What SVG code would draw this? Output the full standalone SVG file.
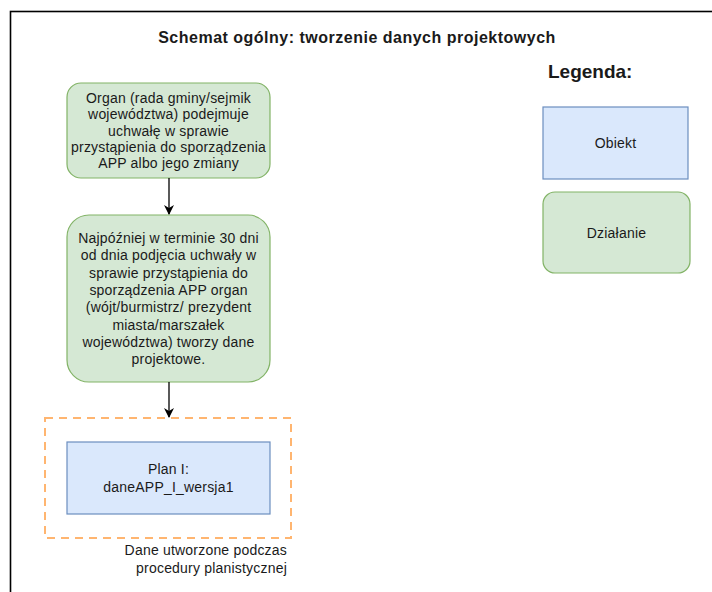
<svg xmlns="http://www.w3.org/2000/svg" width="712" height="592" viewBox="0 0 712 592">
<style>
text{font-family:"Liberation Sans",Arial,sans-serif;fill:#1a1a1a}
.t{font-size:14px;text-anchor:middle;letter-spacing:0.2px}
.act{fill:#d5e8d4;stroke:#82b366;stroke-width:1.2}
.obj{fill:#dae8fc;stroke:#6c8ebf;stroke-width:1.2}
.edge{stroke:#000;stroke-width:1.3;fill:none}
</style>
<defs>
<marker id="arr" markerWidth="10" markerHeight="10" refX="9" refY="5" orient="auto" markerUnits="userSpaceOnUse">
<path d="M0,0 L10,5 L0,10 L3,5 Z" fill="#000"/>
</marker>
</defs>
<rect x="10.5" y="11.5" width="720" height="600" fill="#fff" stroke="#000" stroke-width="1.6"/>
<text x="357" y="43" style="font-size:16px;font-weight:bold;text-anchor:middle;letter-spacing:0.5px" fill="#000">Schemat ogólny: tworzenie danych projektowych</text>

<g id="legend">
<text x="548" y="78" style="font-size:19px;font-weight:bold">Legenda:</text>
<g id="legend-obiekt">
<rect class="obj" x="543" y="107" width="145" height="72"/>
<text class="t" x="615.5" y="148">Obiekt</text>
</g>
<g id="legend-dzialanie">
<rect class="act" x="543" y="192" width="147" height="81" rx="12"/>
<text class="t" x="616.5" y="237.5">Działanie</text>
</g>
</g>

<g id="node1">
<rect class="act" x="67" y="83" width="203" height="95" rx="14"/>
<text class="t" x="168.5" y="103">Organ (rada gminy/sejmik</text>
<text class="t" x="168.5" y="119.3">województwa) podejmuje</text>
<text class="t" x="168.5" y="135.6">uchwałę w sprawie</text>
<text class="t" x="168.5" y="151.9">przystąpienia do sporządzenia</text>
<text class="t" x="168.5" y="168.2">APP albo jego zmiany</text>
</g>

<g id="node2">
<rect class="act" x="67" y="215" width="203" height="167" rx="22"/>
<text class="t" x="168.5" y="243">Najpóźniej w terminie 30 dni</text>
<text class="t" x="168.5" y="260.3">od dnia podjęcia uchwały w</text>
<text class="t" x="168.5" y="277.6">sprawie przystąpienia do</text>
<text class="t" x="168.5" y="294.9">sporządzenia APP organ</text>
<text class="t" x="168.5" y="312.2">(wójt/burmistrz/ prezydent</text>
<text class="t" x="168.5" y="329.5">miasta/marszałek</text>
<text class="t" x="168.5" y="346.8">województwa) tworzy dane</text>
<text class="t" x="168.5" y="364.1">projektowe.</text>
</g>

<g id="group-dane">
<rect x="45" y="418" width="246" height="120" fill="none" stroke="#ffb570" stroke-width="2" stroke-dasharray="8,6"/>
<text x="287" y="555" style="font-size:14px;text-anchor:end;letter-spacing:0.2px">Dane utworzone podczas</text>
<text x="287" y="573" style="font-size:14px;text-anchor:end;letter-spacing:0.2px">procedury planistycznej</text>
</g>

<g id="node3">
<rect class="obj" x="67" y="442" width="203" height="72"/>
<text class="t" x="168.5" y="474">Plan I:</text>
<text class="t" x="168.5" y="492">daneAPP_I_wersja1</text>
</g>

<g id="connectors">
<line class="edge" x1="169" y1="178" x2="169" y2="214" marker-end="url(#arr)"/>
<line class="edge" x1="169" y1="382" x2="169" y2="417" marker-end="url(#arr)"/>
</g>
</svg>
